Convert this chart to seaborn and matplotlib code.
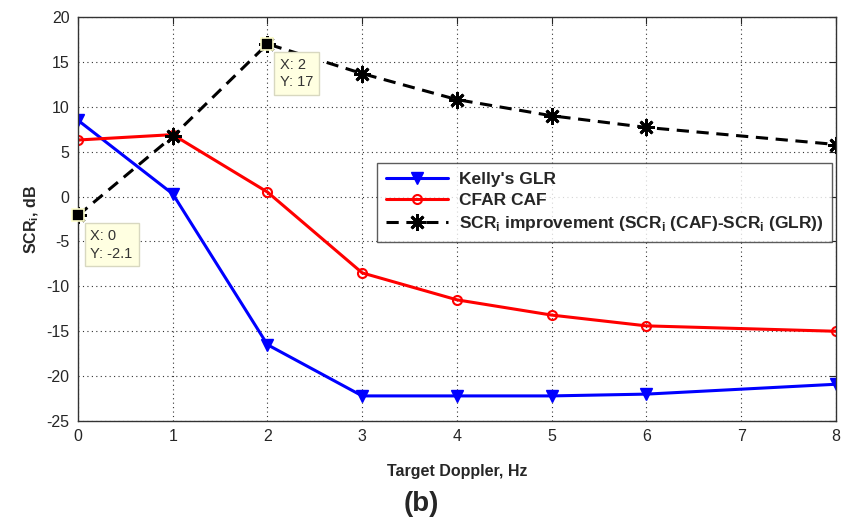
import matplotlib
matplotlib.use("Agg")
import matplotlib.pyplot as plt
import seaborn as sns
import pandas as pd

doppler = [0, 1, 2, 3, 4, 5, 6, 8]
kelly_glr = [8.5, 0.3, -16.5, -22.2, -22.2, -22.2, -22.0, -20.9]
cfar_caf = [6.3, 6.9, 0.5, -8.5, -11.5, -13.2, -14.4, -15.0]
improvement = [-2.1, 6.7, 17.0, 13.7, 10.8, 9.0, 7.7, 5.8]

names = ["Kelly's GLR", "CFAR CAF", "SCR$_{\\mathregular{i}}$ improvement (SCR$_{\\mathregular{i}}$ (CAF)-SCR$_{\\mathregular{i}}$ (GLR))"]

sns.set_style("white")
plt.rcParams['font.family'] = ['Liberation Sans', 'DejaVu Sans']
plt.rcParams['axes.unicode_minus'] = False

df = pd.concat([
    pd.DataFrame({"x": doppler, "y": kelly_glr, "s": names[0]}),
    pd.DataFrame({"x": doppler, "y": cfar_caf, "s": names[1]}),
    pd.DataFrame({"x": doppler, "y": improvement, "s": names[2]}),
])

fig = plt.figure(figsize=(8.43, 5.25), dpi=100)
ax = fig.add_axes([0.0925, 0.198, 0.8992, 0.7696])

styles = {
    names[0]: dict(color="#0000ff", marker="v", ls="-", ms=8, mfc="#0000ff", mec="#0000ff", lw=2.2),
    names[1]: dict(color="#ff0000", marker="o", ls="-", ms=6.5, mfc="none", mec="#ff0000", lw=2.2, mew=1.5),
    names[2]: dict(color="black", marker=(8, 2, 0), ls=(0, (4, 2.5)), ms=12, mfc="black", mec="black", lw=2.2, mew=2.0),
}
for n in names:
    st = styles[n]
    sub = df[df["s"] == n]
    sns.lineplot(data=sub, x="x", y="y", ax=ax, label=n, color=st["color"],
                 marker=st["marker"], linestyle=st["ls"], markersize=st["ms"],
                 markerfacecolor=st["mfc"], markeredgecolor=st["mec"],
                 linewidth=st["lw"], markeredgewidth=st.get("mew", 1.0))

# data tip markers
ax.plot([doppler[0]], [improvement[0]], marker="s", ms=9, color="black", mec="#ffffcc", mew=1.2, ls="none", zorder=6, clip_on=False)
ax.plot([doppler[2]], [improvement[2]], marker="s", ms=9, color="black", mec="#ffffcc", mew=1.2, ls="none", zorder=6, clip_on=False)
bbox = dict(boxstyle="square,pad=0.4", fc="#ffffe1", ec="#d8d8c0", lw=1)
ax.annotate(f"X: {doppler[0]}\nY: {improvement[0]}", xy=(doppler[0], improvement[0]), xytext=(9, -10),
            textcoords="offset points", ha="left", va="top", fontsize=10.5, color="#333333", bbox=bbox, zorder=7,
            linespacing=1.3)
ax.annotate(f"X: {doppler[2]}\nY: {improvement[2]:.0f}", xy=(doppler[2], improvement[2]), xytext=(9, -10),
            textcoords="offset points", ha="left", va="top", fontsize=10.5, color="#333333", bbox=bbox, zorder=7,
            linespacing=1.3)

ax.set_xlim(0, 8)
ax.set_ylim(-25, 20)
ax.set_xticks(range(0, 9))
ax.set_yticks(range(-25, 21, 5))
ax.grid(True, color="#333333", linestyle=(0, (1, 3)), linewidth=0.8)
ax.tick_params(direction="in", length=5, labelsize=11.5, top=True, right=True, pad=6)
for sp in ax.spines.values():
    sp.set_color("#333333")
    sp.set_linewidth(1.0)

ax.set_xlabel("Target Doppler, Hz", fontsize=11.5, fontweight="bold", labelpad=14)
ax.set_ylabel("SCR$_{\\mathregular{i}}$, dB", fontsize=11.5, fontweight="bold", labelpad=4)

leg = ax.legend(loc="upper right", bbox_to_anchor=(0.9947, 0.639), fontsize=12.5, frameon=True,
                fancybox=False, edgecolor="#333333", handlelength=3.6, borderpad=0.5, labelspacing=0.35,
                handletextpad=0.6, borderaxespad=0)
leg.get_frame().set_linewidth(1.0)
for t in leg.get_texts():
    t.set_fontweight("bold")

fig.text(0.5, 0.015, "(b)", ha="center", va="bottom", fontsize=20, fontweight="bold")

fig.savefig("out.png", dpi=100)
